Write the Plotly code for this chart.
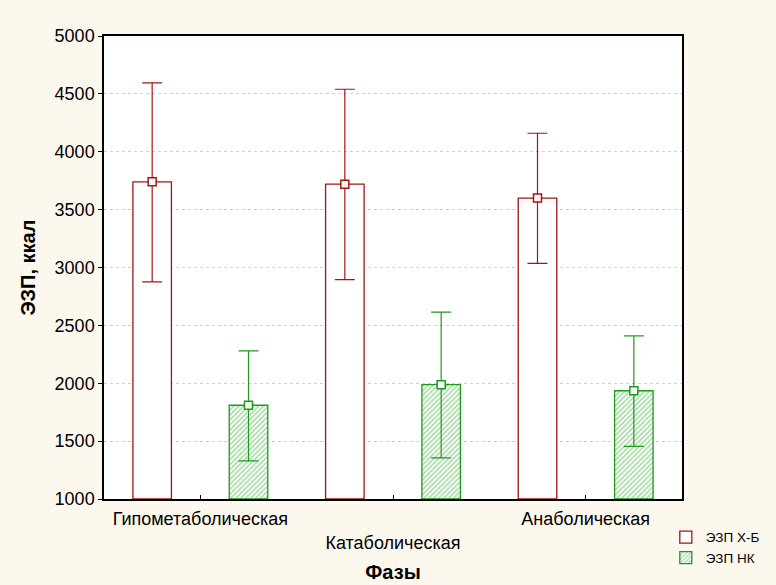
import plotly.graph_objects as go

phases = ["Гипометаболическая", "Катаболическая", "Анаболическая"]
tick_labels = ["Гипометаболическая", "<br>Катаболическая", "Анаболическая"]

hb_mean = [3740, 3720, 3600]
hb_low = [2875, 2895, 3035]
hb_high = [4595, 4540, 4160]

nk_mean = [1810, 1988, 1935]
nk_low = [1330, 1355, 1455]
nk_high = [2280, 2615, 2410]

RED = "#A31515"
GREEN = "#1E9A1E"
FONT = "Liberation Sans, Arial, sans-serif"

fig = go.Figure()

fig.add_trace(go.Bar(
    x=phases, y=[m - 1000 for m in hb_mean], base=1000, name="ЭЗП Х-Б",
    offsetgroup="hb",
    marker=dict(color="white", line=dict(color=RED, width=1.3)),
))
fig.add_trace(go.Bar(
    x=phases, y=[m - 1000 for m in nk_mean], base=1000, name="ЭЗП НК",
    offsetgroup="nk",
    marker=dict(color="white", line=dict(color=GREEN, width=1.3),
                pattern=dict(shape="/", fgcolor="#2FA52F", bgcolor="white",
                             size=3.5, solidity=0.4)),
))

for mean, low, high, col, grp in [(hb_mean, hb_low, hb_high, RED, "hb"),
                                  (nk_mean, nk_low, nk_high, GREEN, "nk")]:
    fig.add_trace(go.Scatter(
        x=phases, y=mean, mode="markers", offsetgroup=grp, showlegend=False,
        marker=dict(symbol="square", size=8, color="white",
                    line=dict(color=col, width=1.5)),
        error_y=dict(type="data", symmetric=False,
                     array=[h - m for h, m in zip(high, mean)],
                     arrayminus=[m - l for m, l in zip(mean, low)],
                     color=col, thickness=1.2, width=10),
    ))

fig.update_layout(
    width=776, height=585,
    paper_bgcolor="#FDF8EE", plot_bgcolor="white",
    margin=dict(l=104, r=94, t=36, b=86, autoexpand=False),
    barmode="group", bargap=0, bargroupgap=0.6,
    scattermode="group", scattergap=0,
    font=dict(family=FONT, size=17, color="black"),
    legend=dict(xref="container", yref="container", x=0.858, y=0.108,
                xanchor="left", yanchor="top",
                bgcolor="rgba(0,0,0,0)", font=dict(size=13.5),
                tracegroupgap=0, itemwidth=30),
    xaxis=dict(
        type="category", tickvals=phases, ticktext=tick_labels,
        tickfont=dict(size=18), ticklabelstandoff=3, automargin=False,
        showgrid=False, showline=True, linecolor="black", linewidth=1.5,
        mirror=True, ticks="inside", ticklen=4, tickcolor="black",
        title=dict(text="<b>Фазы</b>", font=dict(size=20), standoff=13),
    ),
    yaxis=dict(
        range=[1000, 5000], tickvals=[1000, 1500, 2000, 2500, 3000, 3500, 4000, 4500, 5000],
        tickfont=dict(size=18), automargin=False,
        showgrid=True, gridcolor="#CFCFCF", griddash="dot", gridwidth=1,
        showline=True, linecolor="black", linewidth=1.5, mirror=True,
        ticks="outside", ticklen=4, tickcolor="black", zeroline=False,
        title=dict(text="<b>ЭЗП, ккал</b>", font=dict(size=20), standoff=14),
    ),
)

fig.write_html("out.html")
